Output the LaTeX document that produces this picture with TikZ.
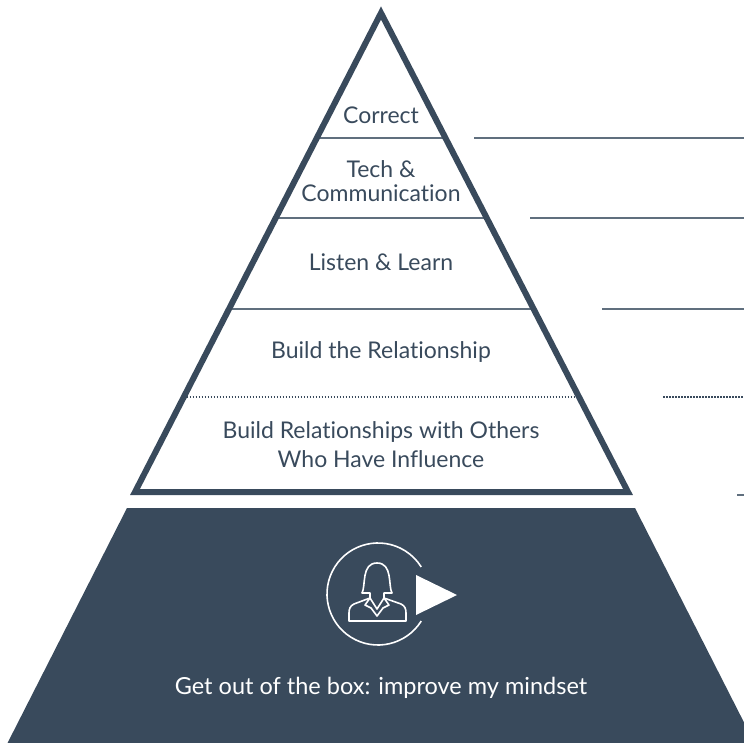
\documentclass[tikz,border=0pt]{standalone}
\usepackage{fontspec}
\setmainfont{Lato}[RawFeature={-liga}]
\usepackage{tikz}
\usetikzlibrary{calc}
\definecolor{slate}{RGB}{57,74,92}
\definecolor{rulegray}{RGB}{96,111,126}
\tikzset{lvl/.style={text=slate,font=\fontsize{23}{24}\selectfont,align=center},
  sep/.style={rulegray,line width=1.3pt}, dots/.style={slate,line width=1.5pt,dash pattern=on 1.5pt off 1.5pt},
  iconline/.style={white,line width=1.6pt,line join=round}}

\begin{document}
\begin{tikzpicture}[x=1pt,y=-1pt]
\useasboundingbox (0,0) rectangle (744,743);
\coordinate (apex) at (381,13); \coordinate (bl) at (135,492); \coordinate (br) at (628,492);
% base block
\begin{scope} \clip (0,0) rectangle (744,743);
\fill[slate] (127,508) -- (635,508) -- (756,746) -- (6,746) -- cycle;
\end{scope}
% levels
\draw[sep] ($(apex)!0.261!(bl)$) -- ($(apex)!0.261!(br)$); \draw[sep] (474,138) -- (744,138);
\draw[sep] ($(apex)!0.428!(bl)$) -- ($(apex)!0.428!(br)$); \draw[sep] (530,218) -- (744,218);
\draw[sep] ($(apex)!0.618!(bl)$) -- ($(apex)!0.618!(br)$); \draw[sep] (602,309) -- (744,309);
\draw[dots] ($(apex)!0.802!(bl)$) -- ($(apex)!0.802!(br)$); \draw[dots] (663,397) -- (744,397);
\draw[sep] (737,495) -- (744,495);
\draw[slate,line width=6pt,line join=miter] (apex) -- (br) -- (bl) -- cycle;
\node[lvl] (l1) at (381,115) {Correct};
\node[lvl] (l2) at (381,181) {Tech \&\\Communication};
\node[lvl] (l3) at (381,262) {Listen \& Learn};
\node[lvl] (l4) at (381,352) {Build the Relationship};
\node[lvl,font=\fontsize{23}{29}\selectfont] (l5) at (381,445) {Build Relationships with Others\\Who Have Influence};
\node[lvl,text=white,font=\fontsize{23.5}{28}\selectfont] (l6) at (381,688) {Get out of the box: improve my mindset};
% icon
\draw[iconline] (378,594) ++(32:51) arc[start angle=32,end angle=328,radius=51];
\fill[white] (416,575) -- (457,595) -- (416,615) -- cycle;
\draw[iconline] (370,593) -- (362,593) .. controls (366,586) and (361,563) .. (377,563) .. controls (393,563) and (388,586) .. (392,593) -- (384,593) -- (384,598)
  -- (401,604) .. controls (405,606) and (406,609) .. (406,613) -- (406,621) -- (349,621) -- (349,613) .. controls (349,609) and (350,606) .. (354,604) -- (370,598) -- cycle;
\draw[iconline] (370,598) -- (365,605) -- (371,608) -- (377,616) -- (383,608) -- (389,605) -- (384,598);
\draw[iconline] (370,598) -- (377,609) -- (384,598);
\end{tikzpicture}
\end{document}
